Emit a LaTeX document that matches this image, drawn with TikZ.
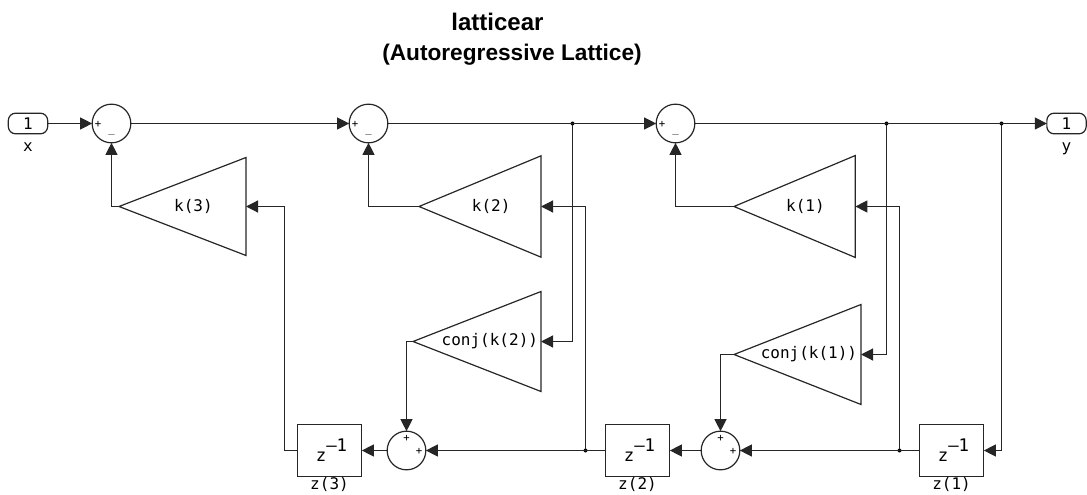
\documentclass[tikz,border=0pt]{standalone}
\usepackage{fontspec}
\setmainfont{Liberation Sans}
\setmonofont{DejaVu Sans Mono}
\usetikzlibrary{shapes.geometric, arrows.meta, positioning}

\begin{document}
\begin{tikzpicture}[
    x=0.75pt, y=-0.75pt,
    font=\ttfamily\fontsize{12pt}{14pt}\selectfont,
    titletext/.style={anchor=base, inner sep=0pt, font=\rmfamily\bfseries\fontsize{#1}{#1}\selectfont},
    portnode/.style={rectangle, draw=black!85, line width=0.9pt, rounded corners=5.5pt, minimum width=29.5pt, minimum height=15.5pt, inner sep=0pt, outer sep=0pt},
    sumnode/.style={circle, draw=black!85, line width=0.9pt, minimum size=29pt, inner sep=0pt, outer sep=0pt},
    gainnode/.style n args={2}{isosceles triangle, isosceles triangle stretches, shape border rotate=180, draw=black!85, line width=0.9pt, anchor=apex, minimum height=#1, minimum width=#2, inner sep=0pt, outer sep=0pt},
    delaynode/.style={rectangle, draw=black!85, line width=0.9pt, minimum width=48.5pt, minimum height=38.5pt, inner sep=0pt, outer sep=0pt},
    signnode/.style={inner sep=0pt, font=\ttfamily\fontsize{8pt}{9pt}\selectfont},
    dotnode/.style={circle, fill=black, minimum size=3pt, inner sep=0pt, outer sep=0pt},
    delaytext/.style={font=\ttfamily\fontsize{13pt}{15pt}\selectfont},
    wire/.style={line width=0.9pt, draw=black!85},
    arrow/.style={wire, -{Triangle[length=9pt, width=9pt]}}
]
\useasboundingbox (0,0) rectangle (1087,495);

% Title
\node[titletext=18pt] (title1) at (497.5,31) {latticear};
\node[titletext=17pt] (title2) at (512,61) {(Autoregressive Lattice)};

% Top row
\node[portnode] (inport) at (28,123.5) {1};
\node[sumnode, right=33.375pt of inport] (sum1) {};
\node[sumnode, right=163.75pt of sum1] (sum2) {};
\node[sumnode, right=201.25pt of sum2] (sum3) {};
\node[portnode, right=264pt of sum3] (outport) {1};
\node[below=3pt of inport] (xlabel) {x};
\node[below=3pt of outport] (ylabel) {y};

% Gains
\node[gainnode={95.25pt}{73.5pt}, label={[xshift=-14.25pt]center:k(3)}] (gain3) at (119,206.5) {};
\node[gainnode={91.5pt}{76pt}, label={[xshift=-12pt]center:k(2)}] (gain2) at (419,206.5) {};
\node[gainnode={91pt}{76.5pt}, label={[xshift=-12pt]center:k(1)}] (gain1) at (734,206.5) {};
\node[gainnode={96pt}{75pt}, label={[xshift=-12.75pt]center:conj(k(2))}] (conj2) at (413,341.5) {};
\node[gainnode={95.25pt}{75pt}, label={[xshift=-13.5pt]center:conj(k(1))}] (conj1) at (734,354.5) {};

% Bottom row
\node[delaynode, delaytext] (delay3) at (329.5,450.5) {\hspace*{3pt}z\raisebox{7.5pt}{–1}};
\node[sumnode, right=19pt of delay3] (add2) {};
\node[delaynode, delaytext, right=134.5pt of add2] (delay2) {\hspace*{3pt}z\raisebox{7.5pt}{–1}};
\node[sumnode, right=23.5pt of delay2] (add1) {};
\node[delaynode, delaytext, right=134.5pt of add1] (delay1) {\hspace*{3pt}z\raisebox{7.5pt}{–1}};
\node[below=-3pt of delay3] (z3label) {z(3)};
\node[below=-3pt of delay2] (z2label) {z(2)};
\node[below=-3pt of delay1] (z1label) {z(1)};

% Signs
\node[signnode] (s1a) at (98,124) {+};
\node[signnode] (s1b) at (111.5,134) {\_};
\node[signnode] (s2a) at (355,124) {+};
\node[signnode] (s2b) at (368.5,134) {\_};
\node[signnode] (s3a) at (662,124) {+};
\node[signnode] (s3b) at (675.5,134) {\_};
\node[signnode] (a2a) at (406.5,438) {+};
\node[signnode] (a2b) at (419,451) {+};
\node[signnode] (a1a) at (720.5,438) {+};
\node[signnode] (a1b) at (733,451) {+};

% Junctions
\node[dotnode] (top2) at (572.5,123.5) {};
\node[dotnode] (top1) at (886.5,123.5) {};
\node[dotnode] (top0) at (1001.5,123.5) {};
\node[dotnode] (bot2) at (585.5,450.5) {};
\node[dotnode] (bot1) at (899.5,450.5) {};

% Arrows
\draw[arrow] (inport) -- (sum1);
\draw[arrow] (sum1) -- (sum2);
\draw[arrow] (sum2) -- (sum3);
\draw[arrow] (sum3) -- (outport);

\draw[arrow] (gain3.apex) -| (sum1.south);
\draw[arrow] (gain2.apex) -| (sum2.south);
\draw[arrow] (gain1.apex) -| (sum3.south);
\draw[arrow] (delay3.west) -- ++(-12.67,0) |- (gain3.east);
\draw[arrow] (bot2) |- (gain2.east);
\draw[arrow] (bot1) |- (gain1.east);
\draw[arrow] (top2) |- (conj2.east);
\draw[arrow] (top1) |- (conj1.east);
\draw[arrow] (conj2.apex) -| (add2.north);
\draw[arrow] (conj1.apex) -| (add1.north);
\draw[arrow] (top0) |- (delay1.east);

\draw[arrow] (add2) -- (delay3);
\draw[arrow] (delay2) -- (add2);
\draw[arrow] (add1) -- (delay2);
\draw[arrow] (delay1) -- (add1);

\end{tikzpicture}
\end{document}
